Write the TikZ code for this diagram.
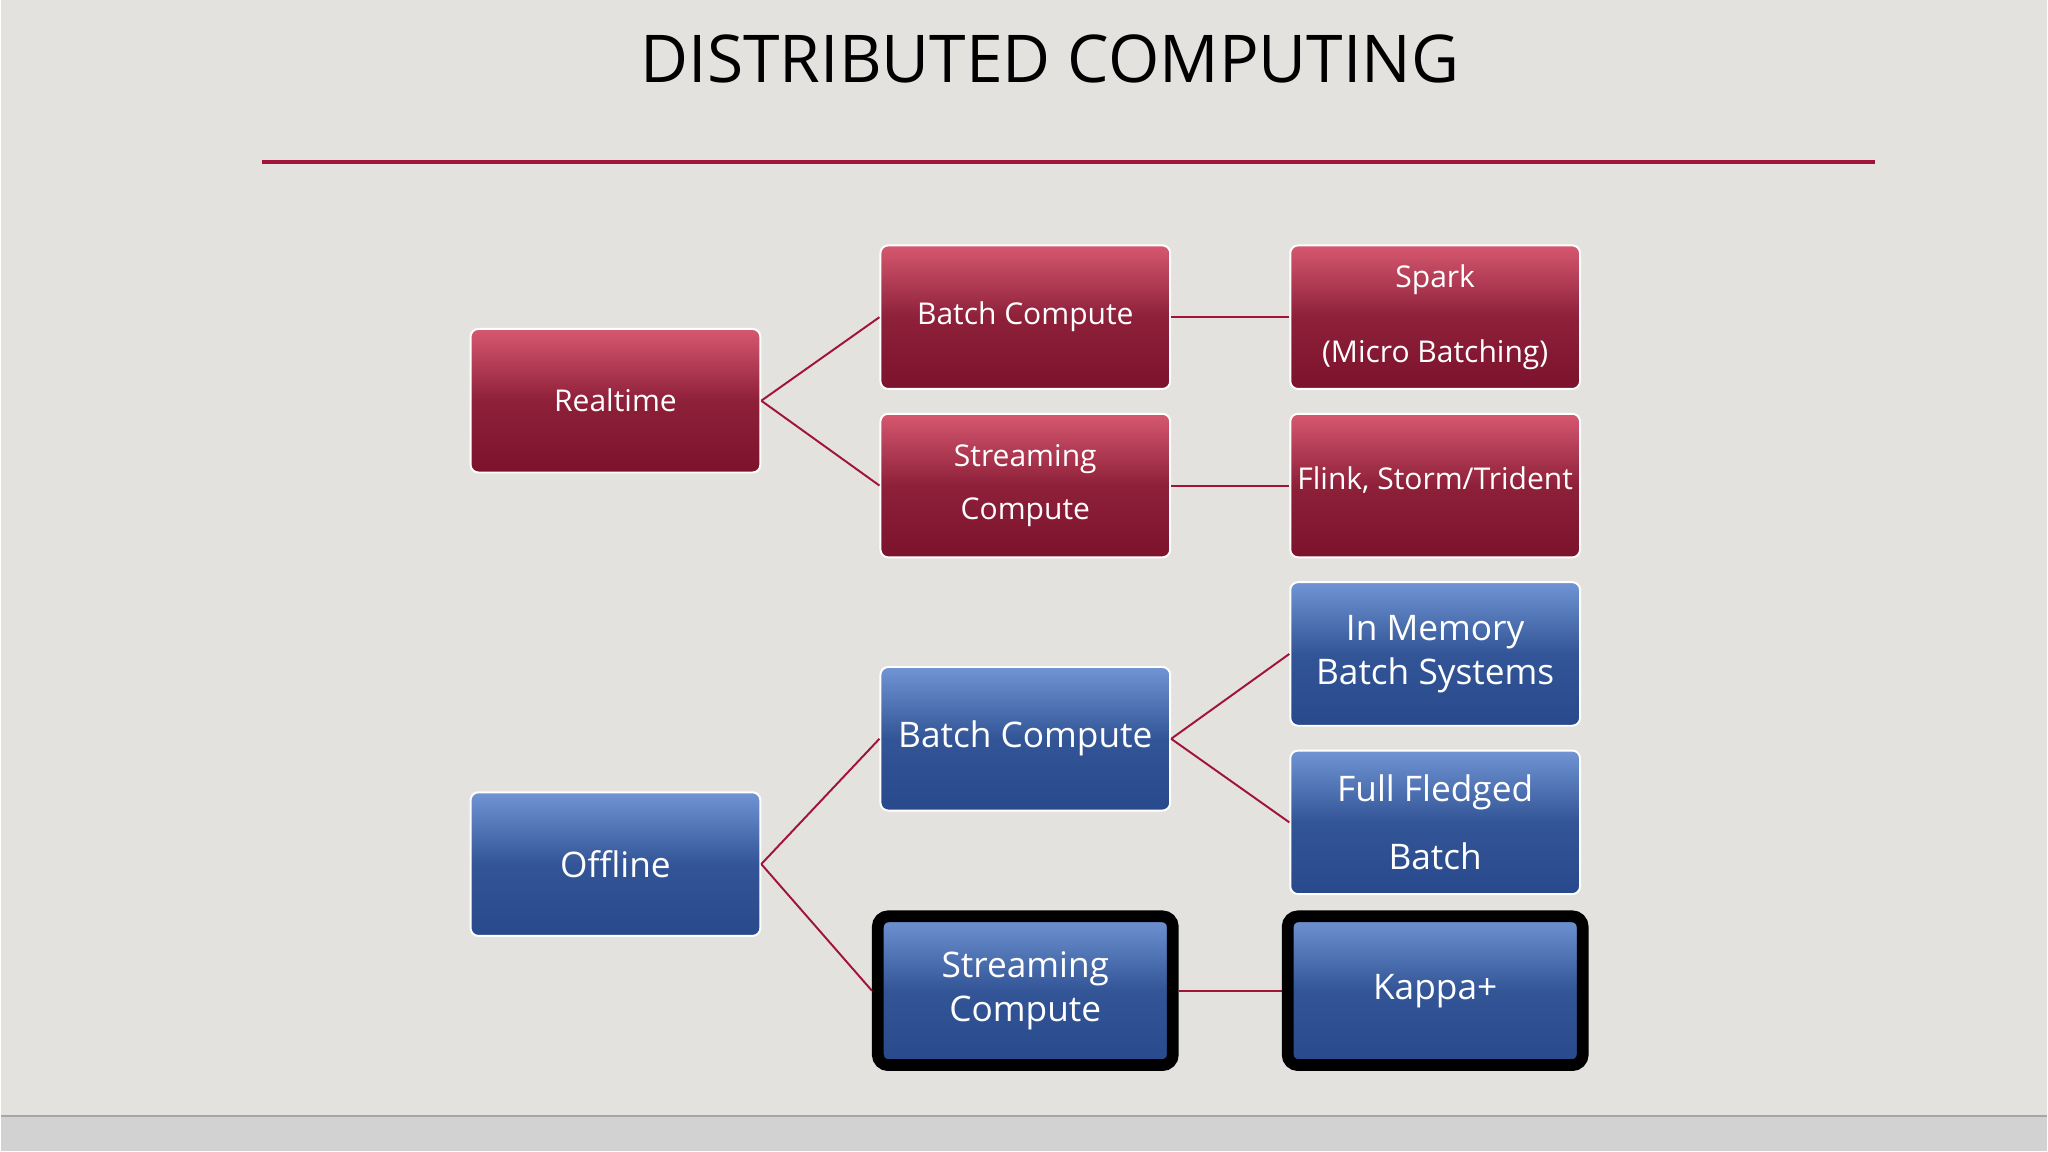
\documentclass[tikz,border=0pt]{standalone}
\usepackage{fontspec}
\setmainfont{Open Sans}
\usetikzlibrary{positioning}
\definecolor{bg}{RGB}{228,226,223}
\definecolor{rtop}{RGB}{214,88,112}
\definecolor{rbot}{RGB}{124,18,44}
\definecolor{btop}{RGB}{112,148,212}
\definecolor{bbot}{RGB}{40,74,140}
\definecolor{lnk}{RGB}{160,20,55}
\tikzset{
 box/.style={draw=white,line width=1.5pt,rounded corners=6pt,minimum width=222pt,minimum height=110pt,text=white,align=center,inner sep=2pt},
 red/.style={box,top color=rtop,bottom color=rbot,middle color=rbot!80!rtop,font=\fontsize{23}{41}\selectfont},
 blue/.style={box,top color=btop,bottom color=bbot,middle color=bbot!85!btop,font=\fontsize{27}{34}\selectfont},
 heavy/.style={draw=black,line width=9pt,rounded corners=8pt,minimum width=226pt,minimum height=114pt},
 link/.style={draw=lnk,line width=1.5pt}
}
\begin{document}
\begin{tikzpicture}[x=1pt,y=-1pt]
\fill[bg] (0,0) rectangle (1568,882);
\fill[gray!35] (0,855) rectangle (1568,882);
\draw[gray!70,line width=1pt] (0,855) -- (1568,855);
\node[font=\fontsize{50.5}{60}\selectfont] (title) at (804,45) {DISTRIBUTED COMPUTING};
\draw[lnk,line width=3pt] (200,124) coordinate (l1) -- (1436,124) coordinate (l2);
\node[red] (rt) at (471,307) {Realtime};
\node[red] (rb) at (785,243) {Batch Compute};
\node[red] (rs) at (785,372) {Streaming\\Compute};
\node[red,font=\fontsize{23}{57}\selectfont] (spark) at (1099,243) {Spark\\(Micro Batching)};
\node[red] (flink) at (1099,372) {\raisebox{12pt}{Flink, Storm/Trident}};
\node[blue] (mem) at (1099,501) {In Memory\\Batch Systems};
\node[blue] (full) at (1099,630) {\raisebox{7pt}{\fontsize{27}{52}\selectfont\begin{tabular}{@{}c@{}}Full Fledged\\Batch\end{tabular}}};
\node[blue] (bb) at (785,566) {Batch Compute};
\node[blue] (off) at (471,662) {Offline};
\node[blue,heavy,top color=btop,bottom color=bbot,middle color=bbot!85!btop] (bs) at (785,759) {Streaming\\Compute};
\node[blue,heavy,top color=btop,bottom color=bbot,middle color=bbot!85!btop] (kappa) at (1099,759) {Kappa+};
\draw[link] (rt.east) -- (rb.west);
\draw[link] (rt.east) -- (rs.west);
\draw[link] (rb.east) -- (spark.west |- rb.east);
\draw[link] (rs.east) -- (flink.west);
\draw[link] (off.east) -- (bb.west);
\draw[link] (off.east) -- (bs.west);
\draw[link] (bb.east) -- (mem.west);
\draw[link] (bb.east) -- (full.west);
\draw[link] (bs.east) -- (kappa.west);
\end{tikzpicture}
\end{document}
